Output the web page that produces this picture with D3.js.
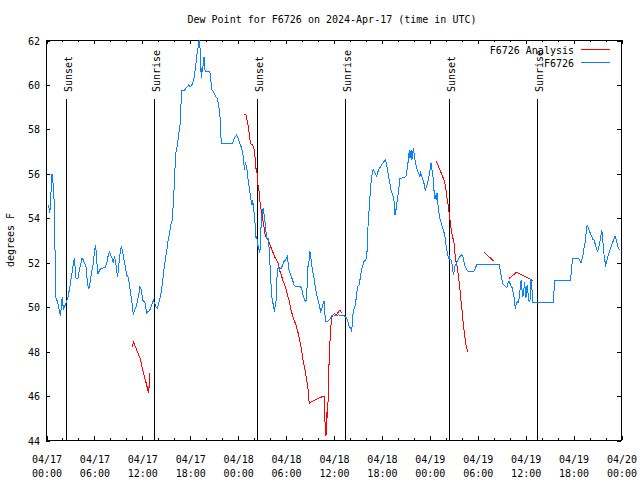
<!DOCTYPE html>
<html>
<head>
<meta charset="utf-8">
<script src="https://cdn.jsdelivr.net/npm/d3@7"></script>
<style>
  html, body { margin: 0; padding: 0; background: #fff; }
  text { font-family: "DejaVu Sans Mono", "Liberation Mono", monospace; font-size: 10px; fill: #000; }
</style>
</head>
<body>
<svg id="chart" width="640" height="480"></svg>
<script>
// ---- Data (hours since 2024-04-17 00:00 UTC, degrees F) ----
const chartTitle = "Dew Point for F6726 on 2024-Apr-17 (time in UTC)";
const yAxisLabel = "degrees F";
const yTicks = [44, 46, 48, 50, 52, 54, 56, 58, 60, 62];
const seriesNames = ["F6726 Analysis", "F6726"];

const observed = [
[0.25,54.58],[0.38,54.43],[0.46,54.2],[0.54,54.47],[0.67,55.48],[0.75,55.97],[0.88,55.58],[1.0,54.88],[1.13,52.55],[1.21,50.45],[1.42,50.23],[1.54,50.08],[1.71,49.7],[1.84,49.58],[1.92,50.15],[2.05,50.45],[2.17,49.85],[2.3,50.0],[2.42,50.08],[2.59,50.23],[2.76,50.45],[2.92,50.75],[3.09,51.13],[3.26,51.5],[3.42,51.95],[3.55,52.18],[3.67,51.65],[3.76,51.28],[4.01,51.28],[4.17,51.65],[4.34,51.88],[4.51,52.18],[4.67,52.1],[4.84,51.95],[5.01,51.8],[5.09,51.43],[5.22,50.98],[5.34,50.78],[5.47,50.98],[5.59,51.28],[5.76,51.65],[5.93,51.95],[6.09,52.55],[6.22,52.78],[6.34,52.1],[6.51,51.47],[6.68,51.62],[6.85,51.73],[7.1,51.73],[7.43,51.77],[7.6,51.95],[7.76,52.25],[7.93,52.48],[8.1,52.33],[8.26,52.18],[8.43,51.95],[8.56,52.22],[8.68,52.1],[8.85,51.65],[8.97,51.32],[9.1,51.8],[9.27,52.4],[9.43,52.73],[9.6,52.48],[9.77,52.1],[9.93,51.8],[10.1,51.43],[10.27,51.35],[10.43,51.05],[10.6,50.6],[10.77,50.15],[10.94,49.63],[11.1,49.85],[11.27,50.0],[11.44,50.23],[11.6,50.53],[11.77,50.9],[11.94,50.75],[12.1,50.3],[12.27,50.23],[12.44,50.15],[12.6,49.7],[12.77,49.78],[12.94,49.82],[13.11,49.93],[13.23,50.08],[13.44,50.3],[13.6,50.15],[13.77,50.0],[13.94,49.93],[14.1,50.15],[14.27,50.38],[14.44,50.68],[14.61,51.13],[14.73,51.58],[14.86,51.87],[14.98,52.25],[15.11,52.48],[15.27,52.93],[15.44,53.23],[15.61,53.68],[15.77,53.83],[15.9,54.43],[16.02,55.18],[16.15,56.22],[16.28,56.97],[16.44,57.27],[16.61,57.73],[16.78,58.18],[16.9,59.08],[16.99,59.71],[17.19,59.71],[17.36,59.75],[17.53,59.83],[17.69,59.9],[17.86,59.98],[18.03,59.9],[18.2,59.95],[18.36,60.05],[18.53,60.28],[18.65,60.58],[18.78,60.95],[18.9,61.33],[19.03,61.63],[19.11,61.85],[19.2,62.0],[19.28,61.7],[19.36,60.88],[19.45,60.28],[19.53,60.73],[19.61,60.58],[19.7,61.03],[19.78,61.25],[19.86,60.73],[19.95,60.6],[20.11,60.58],[20.32,60.58],[20.53,60.55],[20.62,60.28],[20.7,59.98],[20.78,59.75],[20.95,59.68],[21.12,59.55],[21.28,59.45],[21.45,59.38],[21.62,59.08],[21.78,58.63],[21.87,57.88],[21.95,57.35],[23.37,57.35],[23.54,57.55],[23.7,57.65],[23.87,57.73],[24.04,57.6],[24.21,57.43],[24.37,57.2],[24.46,57.2],[24.62,56.9],[24.75,56.68],[24.83,56.15],[24.92,56.38],[25.0,56.5],[25.08,56.3],[25.21,56.08],[25.33,55.63],[25.46,55.33],[25.58,55.03],[25.71,54.73],[25.79,54.58],[25.88,54.8],[25.96,54.58],[26.04,54.28],[26.13,53.98],[26.21,53.53],[26.29,53.08],[26.38,53.15],[26.46,52.93],[26.54,52.7],[26.63,52.78],[26.71,52.4],[26.79,52.48],[26.88,53.23],[26.96,53.83],[27.04,54.13],[27.13,54.35],[27.21,54.43],[27.29,54.2],[27.38,53.98],[27.46,53.68],[27.55,53.38],[27.63,53.08],[27.8,53.08],[27.88,52.93],[27.96,52.48],[28.05,51.88],[28.13,51.28],[28.21,50.83],[28.3,50.38],[28.46,50.08],[28.63,49.78],[28.71,50.15],[28.8,50.23],[28.88,50.98],[28.96,51.58],[29.05,51.73],[29.13,51.8],[29.21,51.65],[29.3,51.73],[29.47,51.73],[29.63,51.88],[29.8,52.03],[29.97,52.1],[30.13,52.18],[30.22,52.25],[30.3,52.03],[30.38,51.73],[30.55,51.5],[30.72,51.35],[30.88,51.2],[31.05,50.98],[31.22,50.9],[31.89,50.9],[32.05,50.75],[32.22,50.45],[32.39,50.3],[32.55,50.23],[32.64,50.68],[32.72,50.98],[32.8,51.8],[32.89,51.88],[32.97,52.18],[33.05,52.48],[33.14,52.25],[33.22,52.03],[33.39,51.58],[33.56,51.28],[33.72,50.9],[33.89,50.53],[34.06,50.3],[34.22,50.08],[34.39,49.78],[34.56,49.93],[34.72,50.15],[34.81,50.26],[34.89,50.08],[34.97,49.33],[35.14,49.33],[35.31,49.36],[35.48,49.4],[35.64,49.48],[35.81,49.6],[35.98,49.63],[36.31,49.6],[36.64,49.63],[36.98,49.6],[37.31,49.6],[37.64,49.48],[37.81,49.33],[37.98,49.1],[38.15,49.03],[38.27,48.88],[38.35,49.25],[38.48,49.85],[38.65,49.93],[38.77,50.15],[38.9,50.6],[39.02,50.9],[39.19,50.98],[39.31,51.2],[39.44,51.5],[39.56,51.73],[39.69,51.88],[39.81,52.03],[39.98,52.1],[40.15,52.18],[40.23,52.7],[40.32,53.6],[40.48,54.5],[40.65,55.4],[40.82,55.93],[40.98,56.18],[41.11,56.08],[41.23,56.0],[41.4,55.88],[41.57,56.08],[41.73,56.23],[41.9,56.3],[42.07,56.42],[42.24,56.48],[42.4,56.57],[42.53,56.6],[42.65,56.38],[42.78,56.15],[42.9,55.85],[43.07,55.55],[43.24,55.18],[43.4,55.07],[43.57,54.8],[43.7,54.13],[43.82,54.35],[43.99,54.8],[44.16,55.25],[44.32,55.78],[44.82,55.8],[45.07,55.85],[45.2,56.15],[45.32,56.45],[45.41,56.75],[45.49,57.05],[45.57,56.68],[45.66,56.9],[45.74,57.05],[45.82,56.6],[45.91,56.83],[45.99,57.13],[46.08,56.9],[46.2,56.6],[46.33,56.38],[46.49,56.15],[46.66,56.0],[46.83,55.85],[46.91,56.08],[46.99,55.93],[47.16,55.78],[47.33,55.55],[47.49,55.25],[47.66,55.4],[47.83,55.63],[48.0,55.93],[48.16,56.38],[48.21,56.45],[48.33,56.15],[48.46,55.85],[48.54,55.4],[48.62,55.1],[48.71,54.83],[48.79,54.95],[48.87,54.88],[48.96,55.1],[49.04,54.8],[49.12,54.43],[49.25,54.13],[49.37,53.9],[49.5,53.75],[49.62,53.6],[49.75,53.45],[49.87,53.3],[50.0,53.08],[50.08,52.78],[50.17,52.63],[50.25,52.4],[50.33,52.28],[50.42,52.18],[50.5,52.25],[50.58,52.13],[50.75,52.1],[50.83,51.95],[50.92,51.73],[51.0,51.43],[51.09,51.58],[51.17,51.73],[51.25,51.88],[51.34,51.88],[51.42,51.95],[51.5,52.03],[51.59,52.1],[51.67,52.18],[51.75,52.22],[51.84,52.25],[52.0,52.33],[52.17,52.28],[52.25,52.18],[52.34,52.03],[52.42,51.88],[52.59,51.73],[52.75,51.62],[52.92,51.59],[53.59,51.59],[53.76,51.73],[53.92,51.88],[54.09,51.92],[54.76,51.89],[55.59,51.88],[56.43,51.9],[56.68,51.9],[56.76,51.88],[56.84,51.73],[56.93,51.5],[57.01,51.35],[57.09,51.2],[57.18,51.05],[57.35,50.98],[57.51,50.9],[57.68,50.87],[57.76,50.9],[57.85,51.05],[57.93,51.13],[58.01,51.13],[58.1,51.05],[58.18,50.98],[58.26,50.87],[58.35,50.87],[58.43,50.75],[58.51,50.6],[58.6,50.45],[58.68,50.23],[58.76,49.88],[58.85,50.08],[58.93,50.15],[59.01,50.23],[59.1,50.18],[59.18,50.23],[59.27,50.45],[59.35,50.75],[59.43,51.05],[59.52,51.2],[59.6,50.75],[59.68,50.45],[59.77,50.53],[59.85,50.83],[59.93,51.1],[60.02,50.7],[60.1,50.4],[60.19,50.9],[60.27,50.98],[60.36,50.6],[60.44,50.3],[60.52,50.23],[60.61,50.3],[60.69,51.2],[60.81,51.23],[60.9,50.3],[60.98,50.18],[63.49,50.2],[63.57,50.45],[63.65,50.9],[63.74,51.2],[65.66,51.2],[65.74,51.43],[65.82,51.88],[65.91,51.95],[65.99,52.18],[66.66,52.18],[66.83,52.1],[66.99,51.95],[67.08,52.1],[67.24,52.33],[67.33,52.55],[67.49,52.85],[67.58,53.08],[67.66,53.45],[67.74,53.6],[67.83,53.63],[67.91,53.53],[67.99,53.45],[68.16,53.3],[68.33,53.18],[68.49,53.03],[68.66,53.0],[68.74,52.85],[68.91,52.63],[69.08,52.48],[69.16,52.63],[69.33,52.85],[69.5,53.23],[69.58,53.38],[69.66,53.3],[69.75,52.85],[69.83,52.55],[69.91,52.18],[70.0,52.03],[70.08,51.8],[70.16,52.03],[70.25,52.1],[70.41,52.33],[70.58,52.48],[70.75,52.7],[70.91,52.85],[71.08,53.0],[71.25,53.18],[71.33,53.12],[71.5,52.85],[71.67,52.63],[71.83,52.55]
];

const analysis1 = [[10.81,48.2],[10.94,48.4],[11.1,48.28],[11.27,48.13],[11.44,47.98],[11.6,47.83],[11.77,47.68],[11.94,47.45],[12.1,47.15],[12.27,46.93],[12.44,46.7],[12.6,46.48],[12.77,46.22],[12.85,46.13],[12.94,46.55],[12.98,47.0]];
const analysis2 = [[24.83,58.66],[25.04,58.63],[25.21,58.33],[25.38,58.03],[25.46,57.73],[25.54,57.5],[25.71,57.28],[25.88,57.28],[26.04,57.13],[26.13,56.83],[26.21,56.68],[26.29,56.23],[26.38,56.23],[26.46,55.85],[26.54,55.48],[26.63,55.4],[26.71,55.03],[26.79,54.73],[26.88,54.5],[26.96,54.28],[27.04,54.2],[27.13,53.98],[27.21,53.75],[27.29,53.6],[27.38,53.3],[27.55,53.15],[27.71,53.08],[27.88,52.93],[28.05,52.78],[28.21,52.63],[28.38,52.48],[28.55,52.33],[28.71,52.18],[28.88,52.1],[29.13,51.88],[29.3,51.58],[29.47,51.43],[29.63,51.2],[29.8,51.05],[29.97,50.9],[30.13,50.68],[30.3,50.45],[30.47,50.23],[30.63,49.93],[30.8,49.7],[30.97,49.48],[31.13,49.33],[31.3,49.18],[31.47,48.95],[31.64,48.73],[31.8,48.43],[31.97,48.13],[32.14,47.68],[32.3,47.38],[32.47,47.08],[32.64,46.7],[32.8,46.33],[32.89,45.88],[32.97,45.65],[33.47,45.77],[34.14,45.88],[34.81,45.98],[34.89,45.13],[34.97,44.6],[35.06,44.2],[35.14,45.28],[35.22,44.98],[35.31,45.65],[35.39,47.08],[35.48,47.68],[35.56,48.43],[35.64,48.88],[35.73,49.4],[35.81,49.55],[35.98,49.63],[36.14,49.7],[36.31,49.63],[36.48,49.7],[36.64,49.78],[36.81,49.85],[36.89,49.8],[36.98,49.7]];
const analysis3 = [[48.83,56.53],[49.0,56.45],[49.16,56.3],[49.33,56.15],[49.5,56.0],[49.67,55.85],[49.83,55.7],[50.0,55.48],[50.08,55.25],[50.17,55.03],[50.25,54.8],[50.33,54.65],[50.42,54.43],[50.5,54.13],[50.58,53.9],[50.67,53.68],[50.75,53.45],[50.83,53.3],[50.92,53.15],[51.0,53.0],[51.09,52.85],[51.17,52.55],[51.25,52.25],[51.34,52.03],[51.42,51.95],[51.5,51.73],[51.59,51.5],[51.67,51.28],[51.75,51.05],[51.84,50.75],[51.92,50.45],[52.0,50.15],[52.09,49.85],[52.17,49.55],[52.25,49.25],[52.34,48.95],[52.42,48.73],[52.5,48.5],[52.59,48.28],[52.67,48.13],[52.84,47.98]];
const analysis4 = [[54.84,52.46],[56.05,52.05]];
const analysis5 = [[58.0,51.28],[58.93,51.55],[61.02,51.17]];
const analysisSegments = [analysis1, analysis2, analysis3, analysis4, analysis5];

const sunEventHours = [2.54, 13.56, 26.46, 37.48, 50.5, 61.52];
const sunEventLabels = ["Sunset", "Sunrise", "Sunset", "Sunrise", "Sunset", "Sunrise"];

// ---- Layout ----
const L = 46, R = 621, T = 40, B = 440;
const colorObs = "#0a80ff", colorAna = "#ff0000";
const t0 = Date.UTC(2024, 3, 17);
const toDate = h => new Date(t0 + h * 3600e3);

const svg = d3.select("#chart");
svg.append("rect").attr("width", 640).attr("height", 480).attr("fill", "#fff");

const x = d3.scaleUtc().domain([toDate(0), toDate(72)]).range([L, R]);
const y = d3.scaleLinear().domain([44, 62]).range([B, T]);

const majorTicks = d3.utcHour.every(6).range(toDate(0), toDate(72.01));
const minorTicks = d3.utcHour.every(2).range(toDate(0), toDate(72.01));

// minor ticks (bottom & top)
svg.append("g").attr("transform", `translate(0.5,${B})`)
  .call(d3.axisBottom(x).tickValues(minorTicks).tickSizeInner(-2).tickSizeOuter(0).tickFormat(""))
  .call(g => g.select(".domain").remove());
svg.append("g").attr("transform", `translate(0.5,${T})`)
  .call(d3.axisTop(x).tickValues(minorTicks).tickSizeInner(-2).tickSizeOuter(0).tickFormat(""))
  .call(g => g.select(".domain").remove());

// major ticks bottom with two-line labels
const xAxisG = svg.append("g").attr("transform", `translate(0.5,${B})`)
  .call(d3.axisBottom(x).tickValues(majorTicks).tickSizeInner(-4).tickSizeOuter(0).tickPadding(0)
    .tickFormat(() => ""))
  .call(g => g.select(".domain").remove());
xAxisG.selectAll(".tick").each(function(d) {
  const tk = d3.select(this);
  tk.select("text").remove();
  tk.append("text").attr("text-anchor", "middle").attr("y", 23).text(d3.utcFormat("%m/%d")(d));
  tk.append("text").attr("text-anchor", "middle").attr("y", 37).text(d3.utcFormat("%H:%M")(d));
});
svg.append("g").attr("transform", `translate(0.5,${T})`)
  .call(d3.axisTop(x).tickValues(majorTicks).tickSizeInner(-4).tickSizeOuter(0).tickFormat(""))
  .call(g => g.select(".domain").remove());

// y axes
const yAxisG = svg.append("g").attr("transform", `translate(${L},0.5)`)
  .call(d3.axisLeft(y).tickValues(yTicks).tickSizeInner(-4).tickSizeOuter(0).tickPadding(6).tickFormat(d3.format("d")))
  .call(g => g.select(".domain").remove());
yAxisG.selectAll("text").attr("dy", "0.35em").style("font-family", "DejaVu Sans Mono").style("font-size", "10px");
svg.append("g").attr("transform", `translate(${R},0.5)`)
  .call(d3.axisRight(y).tickValues(yTicks).tickSizeInner(-4).tickSizeOuter(0).tickFormat(""))
  .call(g => g.select(".domain").remove());

svg.selectAll(".tick line").attr("stroke", "#000").attr("shape-rendering", "crispEdges");
svg.selectAll(".tick text").attr("fill", "#000");

// border
svg.append("rect").attr("x", L + 0.5).attr("y", T + 0.5).attr("width", R - L).attr("height", B - T)
  .attr("fill", "none").attr("stroke", "#000").attr("stroke-width", 1).attr("shape-rendering", "crispEdges");

// sunrise / sunset markers
const sunG = svg.append("g");
sunEventHours.forEach((h, i) => {
  const xp = Math.round(x(toDate(h))) + 0.5;
  sunG.append("line").attr("x1", xp).attr("x2", xp).attr("y1", 99).attr("y2", B)
    .attr("stroke", "#000").attr("stroke-width", 1).attr("shape-rendering", "crispEdges");
  sunG.append("text").attr("transform", `translate(${xp + 5},92) rotate(-90)`)
    .attr("text-anchor", "start").text(sunEventLabels[i]);
});

// lines (aliased like the original renderer)
const line = d3.line().x(d => x(toDate(d[0]))).y(d => y(d[1]));
svg.append("g").selectAll("path.ana").data(analysisSegments).join("path")
  .attr("class", "ana").attr("d", line).attr("fill", "none").attr("stroke", colorAna)
  .attr("stroke-width", 1).attr("shape-rendering", "crispEdges");
svg.append("path").datum(observed).attr("d", line).attr("fill", "none")
  .attr("stroke", colorObs).attr("stroke-width", 1).attr("shape-rendering", "crispEdges");

// title and y label
svg.append("text").attr("x", 332).attr("y", 23).attr("text-anchor", "middle").text(chartTitle);
svg.append("text").attr("transform", "translate(14,240) rotate(-90)").attr("text-anchor", "middle").text(yAxisLabel);

// legend
const legendColors = [colorAna, colorObs];
seriesNames.forEach((name, i) => {
  const ly = 49.5 + i * 13;
  svg.append("text").attr("x", 574).attr("y", ly + 4).attr("text-anchor", "end").text(name);
  svg.append("line").attr("x1", 581).attr("x2", 610).attr("y1", ly).attr("y2", ly)
    .attr("stroke", legendColors[i]).attr("stroke-width", 1).attr("shape-rendering", "crispEdges");
});
</script>
</body>
</html>
